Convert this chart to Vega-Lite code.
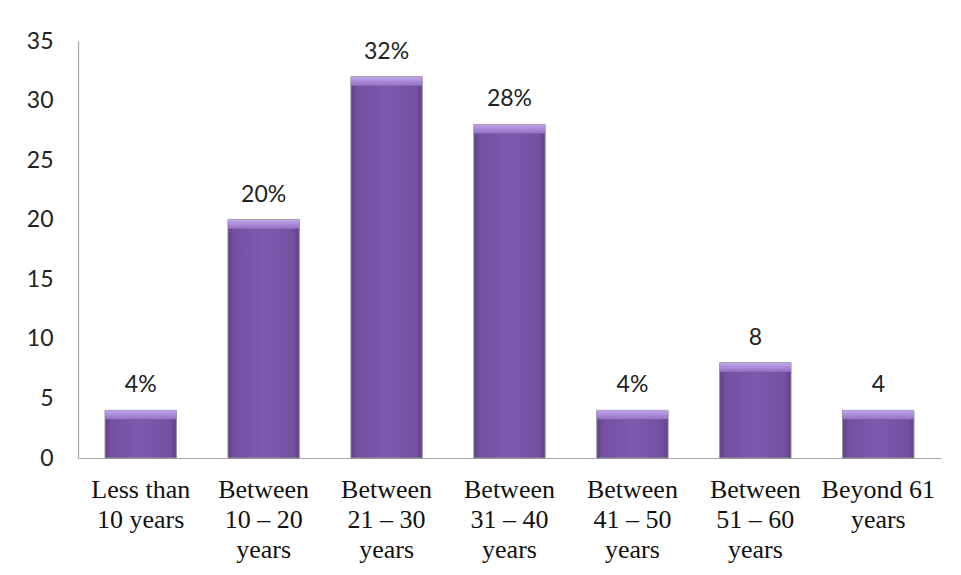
{
  "$schema": "https://vega.github.io/schema/vega-lite/v6.json",
  "autosize": "none",
  "width": 863,
  "height": 417,
  "padding": {"left": 78, "top": 41, "right": 20, "bottom": 117},
  "background": "white",
  "config": {"view": {"stroke": null}},
  "data": {
    "values": [
      {"group": "Less than|10 years", "value": 4, "label": "4%"},
      {"group": "Between|10 – 20|years", "value": 20, "label": "20%"},
      {"group": "Between|21 – 30|years", "value": 32, "label": "32%"},
      {"group": "Between|31 – 40|years", "value": 28, "label": "28%"},
      {"group": "Between|41 – 50|years", "value": 4, "label": "4%"},
      {"group": "Between|51 – 60|years", "value": 8, "label": "8"},
      {"group": "Beyond 61|years", "value": 4, "label": "4"}
    ]
  },
  "encoding": {
    "x": {
      "field": "group", "type": "nominal", "sort": null,
      "scale": {"paddingInner": 0.42, "paddingOuter": 0.22},
      "axis": {
        "title": null, "labelAngle": 0, "ticks": false,
        "domainColor": "#a6a6a6", "domainWidth": 1.2,
        "labelFont": "Liberation Serif", "labelFontSize": 26, "labelColor": "#111",
        "labelLineHeight": 30, "labelPadding": 18,
        "labelExpr": "split(datum.label, '|')"
      }
    },
    "y": {
      "field": "value", "type": "quantitative",
      "scale": {"domain": [0, 35], "nice": false},
      "axis": {
        "title": null, "grid": false, "ticks": false,
        "values": [0, 5, 10, 15, 20, 25, 30, 35],
        "domainColor": "#a6a6a6", "domainWidth": 1.2,
        "labelFont": "Lato", "labelFontSize": 23, "labelColor": "#222",
        "labelPadding": 25
      }
    }
  },
  "layer": [
    {
      "mark": {
        "type": "bar",
        "stroke": "#8f8f8f", "strokeWidth": 1,
        "color": {
          "gradient": "linear", "x1": 0, "x2": 1, "y1": 0, "y2": 0,
          "stops": [
            {"offset": 0, "color": "#5e3f88"},
            {"offset": 0.08, "color": "#7350a2"},
            {"offset": 0.5, "color": "#7e5aae"},
            {"offset": 0.92, "color": "#7350a2"},
            {"offset": 1, "color": "#5e3f88"}
          ]
        }
      }
    },
    {
      "mark": {
        "type": "bar", "y2Offset": 9, "stroke": null,
        "color": {
          "gradient": "linear", "x1": 0, "x2": 0, "y1": 0, "y2": 1,
          "stops": [
            {"offset": 0, "color": "#c3a6ec"},
            {"offset": 1, "color": "#9271c4"}
          ]
        }
      },
      "encoding": {"y2": {"field": "value"}}
    },
    {
      "mark": {"type": "text", "dy": -18, "baseline": "alphabetic", "font": "Lato", "fontSize": 23, "color": "#222"},
      "encoding": {"text": {"field": "label"}}
    }
  ]
}
